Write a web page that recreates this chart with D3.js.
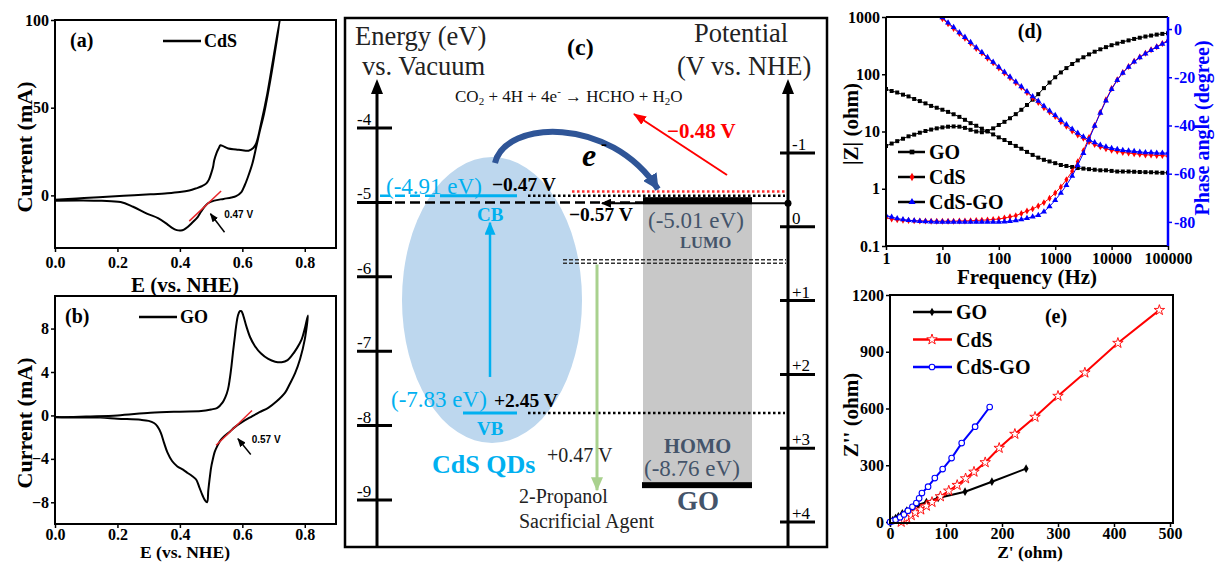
<!DOCTYPE html>
<html>
<head>
<meta charset="utf-8">
<script src="https://cdn.jsdelivr.net/npm/d3@7/dist/d3.min.js"></script>
<style>
  body { margin: 0; background: #fff; }
  svg { display: block; }
</style>
</head>
<body>
<div class="canvas"></div>
<script>
const serif = "'Liberation Serif', 'Times New Roman', serif";
const sans = "'Liberation Sans', Arial, sans-serif";

// (a) CdS cyclic voltammogram, forward then reverse scan
const cdsCvE = [0, 0.07, 0.14, 0.22, 0.306, 0.36, 0.4, 0.43, 0.452, 0.47, 0.484, 0.493, 0.5, 0.506, 0.51, 0.517, 0.524, 0.53, 0.537, 0.555, 0.58, 0.6, 0.62, 0.635, 0.645, 0.66, 0.68, 0.70, 0.72,
  0.71, 0.69, 0.67, 0.655, 0.645, 0.632, 0.618, 0.607, 0.597, 0.58, 0.565, 0.54, 0.51, 0.49, 0.478, 0.467, 0.457, 0.44, 0.425, 0.413, 0.403, 0.39, 0.375, 0.36, 0.33, 0.296, 0.25, 0.21, 0.15, 0.09, 0.0];
const cdsCvI = [-2.5, -1.8, -1, -0.2, 0.6, 1.2, 1.9, 2.8, 4, 5.2, 6.7, 9, 12.4, 16, 20, 24, 26.7, 28.6, 28.2, 26.7, 26.2, 25.7, 25.5, 27, 30, 41, 58, 79, 100,
  88, 66, 47, 36, 28, 18, 10.5, 5.5, 1.9, -0.4, -1.2, -2, -3, -4.5, -6.7, -9.5, -12.4, -15.5, -18, -19.5, -20, -19.8, -18.5, -16.5, -13, -10.5, -6.5, -3.8, -3.1, -2.9, -3];
const cdsTangent = [[0.43, -14.7], [0.532, 2.5]];
const cdsOnsetArrow = [[0.543, -21], [0.498, -10.5]];

// (b) GO cyclic voltammogram
const goCvE = [0, 0.1, 0.2, 0.306, 0.4, 0.468, 0.5, 0.52, 0.537, 0.546, 0.554, 0.56, 0.565, 0.57, 0.575, 0.58, 0.586, 0.592, 0.597, 0.603, 0.613, 0.625, 0.64, 0.66, 0.683, 0.705, 0.726, 0.745, 0.758, 0.775, 0.79, 0.80, 0.81,
  0.80, 0.785, 0.769, 0.752, 0.737, 0.71, 0.683, 0.655, 0.63, 0.6, 0.575, 0.56, 0.543, 0.53, 0.52, 0.511, 0.505, 0.5, 0.495, 0.491, 0.487, 0.48, 0.473, 0.462, 0.452, 0.44, 0.425, 0.41, 0.392, 0.375, 0.36, 0.349, 0.339, 0.328, 0.317, 0.3, 0.274, 0.2, 0.145, 0.07, 0];
const goCvI = [-0.2, -0.1, 0, 0.25, 0.35, 0.4, 0.55, 0.7, 1.2, 1.7, 2.4, 3.4, 4.5, 5.8, 7.0, 8.2, 9.2, 9.6, 9.6, 9.2, 8.2, 7.2, 6.4, 5.7, 5.2, 4.95, 4.9, 5.1, 5.5, 6.2, 7.0, 8.0, 9.2,
  7.0, 5.2, 3.9, 2.9, 2.1, 1.3, 0.7, 0.3, -0.1, -0.6, -1.1, -1.5, -1.9, -2.3, -2.8, -3.4, -4.1, -4.8, -5.9, -6.9, -8.0, -7.8, -7.4, -6.6, -5.9, -5.6, -5.3, -5.0, -4.7, -4.2, -3.4, -2.5, -1.6, -1.0, -0.7, -0.5, -0.4, -0.3, -0.2, -0.2, -0.15];
const goTangent = [[0.516, -2.74], [0.631, 0.46]];
const goOnsetArrow = [[0.627, -3.6], [0.586, -2.15]];

const eTicks = [0, 0.2, 0.4, 0.6, 0.8];
const aCurrentTicks = [0, 50, 100];
const bCurrentTicks = [-8, -4, 0, 4, 8];

// (c) band levels
const leftEnergyTicks = [-4, -5, -6, -7, -8, -9];
const rightPotentialTicks = [-1, 0, 1, 2, 3, 4];
const rightPotentialLabels = ["-1", "0", "+1", "+2", "+3", "+4"];
const cdsCB = -4.91;
const cdsVB = -7.83;
const goLUMO = -5.01;
const goHOMO = -8.76;
const vacRef = -5;
const co2Potential = -0.48;
const propanolPotential = 0.47;

// (d) Bode plot
const freq = [1, 1.26, 1.58, 2, 2.51, 3.16, 3.98, 5.01, 6.31, 7.94,
  10, 12.6, 15.8, 20, 25.1, 31.6, 39.8, 50.1, 63.1, 79.4,
  100, 126, 158, 200, 251, 316, 398, 501, 631, 794,
  1000, 1260, 1580, 2000, 2510, 3160, 3980, 5010, 6310, 7940,
  10000, 12600, 15800, 20000, 25100, 31600, 39800, 50100, 63100, 79400, 100000];
const goZ = [55, 51, 48, 44, 41, 37, 34, 31, 28, 26,
  24, 22, 20, 18, 16, 14, 12.6, 11.2, 10, 8.9,
  7.9, 7.1, 6.3, 5.6, 5.0, 4.4, 3.9, 3.5, 3.2, 3.0,
  2.8, 2.6, 2.5, 2.4, 2.3, 2.25, 2.2, 2.15, 2.1, 2.1,
  2.05, 2.0, 2.0, 2.0, 1.98, 1.96, 1.95, 1.94, 1.92, 1.9, 1.9];
const cdsZ = [6760, 5500, 4570, 3720, 3090, 2510, 2040, 1700, 1380, 1150,
  933, 759, 631, 513, 427, 347, 282, 234, 191, 158,
  129, 105, 87, 71, 59, 48, 39, 32, 26, 22,
  18.2, 14.8, 12.3, 10.2, 8.7, 7.6, 6.6, 5.9, 5.4, 5.0,
  4.7, 4.5, 4.3, 4.2, 4.1, 4.0, 3.9, 3.9, 3.8, 3.8, 3.7];
const cdsGoZ = [7100, 5800, 4800, 3900, 3250, 2640, 2150, 1780, 1450, 1200,
  980, 795, 660, 535, 445, 362, 294, 243, 198, 164,
  134, 109, 90, 74, 61, 50, 41, 34, 28, 23,
  19.2, 15.8, 13.2, 11.1, 9.4, 8.1, 7.1, 6.4, 5.8, 5.4,
  5.1, 4.9, 4.7, 4.6, 4.5, 4.4, 4.3, 4.3, 4.2, 4.2, 4.2];
const goPhase = [-48.5, -47.5, -46.5, -45.5, -44.5, -43.8, -43.0, -42.3, -41.7, -41.2,
  -40.8, -40.5, -40.4, -40.5, -41.0, -41.8, -42.5, -42.8, -42.3, -41.2,
  -39.8, -38.5, -37, -35.3, -33.5, -31.5, -29.3, -27, -24.5, -22.2,
  -20, -18, -16.2, -14.5, -13, -11.7, -10.5, -9.4, -8.4, -7.5,
  -6.7, -6.0, -5.3, -4.7, -4.1, -3.6, -3.1, -2.7, -2.3, -2.0, -1.7];
const cdsPhase = [-78.3, -78.8, -79.1, -79.3, -79.4, -79.5, -79.6, -79.6, -79.7, -79.7,
  -79.7, -79.7, -79.7, -79.6, -79.6, -79.5, -79.4, -79.3, -79.2, -79.0,
  -78.8, -78.4, -77.9, -77.4, -76.5, -75.5, -74.6, -73.4, -72, -70.2,
  -68, -65.5, -62.5, -59, -55, -50.5, -45, -40, -34.5, -29.3,
  -24.7, -21, -18, -15.5, -13.4, -11.6, -10, -8.6, -7.3, -6, -4.7];
const cdsGoPhase = [-77.3, -78, -78.6, -79, -79.3, -79.5, -79.7, -79.8, -79.9, -80,
  -80, -80, -80, -80, -80, -80, -80, -80, -80, -80,
  -80, -79.9, -79.7, -79.4, -79, -78.5, -77.9, -77.2, -75.8, -73.6,
  -71, -68, -64.8, -61, -56.5, -51.5, -45.8, -40.2, -34.8, -29.7,
  -25, -21.2, -18.2, -15.7, -13.6, -11.8, -10.2, -8.8, -7.5, -6.2, -5.0];
const freqTicks = [1, 10, 100, 1000, 10000, 100000];
const zTicks = [0.1, 1, 10, 100, 1000];
const phaseTicks = [0, -20, -40, -60, -80];

// (e) Nyquist plot
const goReZ = [0, 5, 10, 15, 22, 30, 40, 50, 65, 86, 134, 182, 243];
const goImZ = [0, 10, 20, 30, 45, 60, 75, 90, 105, 127, 160, 213, 282];
const cdsReZ = [20, 25, 30, 38, 45, 55, 65, 75, 90, 105, 120, 135, 150, 170, 195, 223, 259, 300, 348, 407, 481];
const cdsImZ = [0, 10, 22, 35, 50, 65, 85, 105, 135, 165, 195, 230, 265, 315, 391, 465, 555, 666, 789, 946, 1120];
const cdsGoReZ = [0, 5, 10, 18, 25, 32, 40, 47, 52, 57, 68, 80, 94, 110, 128, 152, 178];
const cdsGoImZ = [0, 5, 12, 25, 40, 60, 80, 100, 125, 153, 187, 232, 280, 338, 417, 504, 608];
const reTicks = [0, 100, 200, 300, 400, 500];
const imTicks = [0, 300, 600, 900, 1200];

const zip = (a, b) => a.map((v, i) => [v, b[i]]);

const svg = d3.select(".canvas").append("svg").attr("width", 1215).attr("height", 562);
svg.append("rect").attr("width", 1215).attr("height", 562).attr("fill", "#fff");

const defs = svg.append("defs");
function arrowMarker(id, color, w, h) {
  defs.append("marker")
    .attr("id", id)
    .attr("markerUnits", "userSpaceOnUse")
    .attr("viewBox", `0 0 ${w} ${h}`)
    .attr("refX", w - 1).attr("refY", h / 2)
    .attr("markerWidth", w).attr("markerHeight", h)
    .attr("orient", "auto")
    .append("path")
    .attr("d", `M0,0L${w},${h / 2}L0,${h}Z`)
    .attr("fill", color);
}
arrowMarker("ah-black", "#000", 9, 7);
arrowMarker("ah-red", "#ff0000", 13, 10);
arrowMarker("ah-cyan", "#00b0f0", 13, 11);
arrowMarker("ah-navy", "#2f5597", 16, 16);
arrowMarker("ah-green", "#a9d18e", 14, 12);
arrowMarker("ah-lumo", "#000", 10, 9);

function styleAxis(g, size, color) {
  g.select(".domain").remove();
  g.selectAll(".tick line").attr("stroke", color || "#000").attr("stroke-width", 1.5);
  g.selectAll(".tick text")
    .attr("font-family", serif)
    .attr("font-weight", "bold")
    .attr("font-size", size)
    .attr("fill", color || "#000");
}

function label(g, x, y, s, o) {
  o = o || {};
  const t = g.append("text")
    .attr("x", x).attr("y", y)
    .attr("font-family", o.family || serif)
    .attr("font-size", o.size || 16)
    .attr("font-weight", o.bold ? "bold" : "normal")
    .attr("font-style", o.italic ? "italic" : "normal")
    .attr("fill", o.color || "#000")
    .attr("text-anchor", o.anchor || "start")
    .text(s);
  if (o.rotate) t.attr("transform", `rotate(${o.rotate},${x},${y})`);
  return t;
}

// ---------- CV panels (a) and (b) ----------
function cvPanel(opt) {
  const x = d3.scaleLinear().domain([0, 0.9]).range([55, 336]);
  const y = d3.scaleLinear().domain(opt.yDomain).range([opt.bottom, opt.top]);
  const g = svg.append("g");

  g.append("g")
    .attr("transform", `translate(0,${opt.bottom})`)
    .call(d3.axisBottom(x).tickValues(eTicks).tickFormat(d3.format(".1f")).tickSize(4).tickPadding(opt.tickPad))
    .call(styleAxis, 16);
  g.append("g")
    .attr("transform", "translate(55,0)")
    .call(d3.axisLeft(y).tickValues(opt.yTicks).tickSize(4).tickPadding(2))
    .call(styleAxis, 16);

  g.append("path")
    .datum(zip(opt.e, opt.i))
    .attr("fill", "none")
    .attr("stroke", "#000")
    .attr("stroke-width", 2)
    .attr("stroke-linejoin", "round")
    .attr("d", d3.line().x(d => x(d[0])).y(d => y(d[1])).curve(d3.curveCatmullRom));

  g.append("line")
    .attr("x1", x(opt.tangent[0][0])).attr("y1", y(opt.tangent[0][1]))
    .attr("x2", x(opt.tangent[1][0])).attr("y2", y(opt.tangent[1][1]))
    .attr("stroke", "#e8262a").attr("stroke-width", 1.5);

  g.append("line")
    .attr("x1", x(opt.arrow[0][0])).attr("y1", y(opt.arrow[0][1]))
    .attr("x2", x(opt.arrow[1][0])).attr("y2", y(opt.arrow[1][1]))
    .attr("stroke", "#000").attr("stroke-width", 1.5)
    .attr("marker-end", "url(#ah-black)");

  label(g, x(opt.onsetPos[0]), y(opt.onsetPos[1]), opt.onsetText, { family: sans, size: 10, bold: true });

  g.append("rect")
    .attr("x", 55).attr("y", opt.top)
    .attr("width", 336 - 55).attr("height", opt.bottom - opt.top)
    .attr("fill", "none").attr("stroke", "#000").attr("stroke-width", 2);

  // legend
  g.append("line").attr("x1", opt.legX).attr("x2", opt.legX + 38)
    .attr("y1", opt.legY).attr("y2", opt.legY)
    .attr("stroke", "#000").attr("stroke-width", 2.5);
  label(g, opt.legX + 41, opt.legY + 6, opt.name, { size: 18, bold: true });
  label(g, opt.tagX, opt.tagY, opt.tag, { size: 20, bold: true });

  label(g, 32, (opt.top + opt.bottom) / 2 + 13, "Current (mA)", { size: 22, bold: true, anchor: "middle", rotate: -90 });
  label(g, 185, opt.xLabelY, "E (vs. NHE)", { size: opt.xLabelSize, bold: true, anchor: "middle" });
}

cvPanel({
  top: 20, bottom: 248, yDomain: [-30, 100], yTicks: aCurrentTicks,
  e: cdsCvE, i: cdsCvI, tangent: cdsTangent, arrow: cdsOnsetArrow,
  onsetPos: [0.542, -13], onsetText: "0.47 V", tickPad: 5,
  legX: 163, legY: 41, name: "CdS", tag: "(a)", tagX: 70, tagY: 47, xLabelY: 292, xLabelSize: 21
});
cvPanel({
  top: 296, bottom: 524, yDomain: [-10, 11], yTicks: bCurrentTicks,
  e: goCvE, i: goCvI, tangent: goTangent, arrow: goOnsetArrow,
  onsetPos: [0.63, -2.5], onsetText: "0.57 V", tickPad: 1,
  legX: 139, legY: 317, name: "GO", tag: "(b)", tagX: 65, tagY: 323, xLabelY: 558, xLabelSize: 17.5
});

// ---------- (c) band diagram ----------
const gc = svg.append("g");
const yE = d3.scaleLinear().domain([-4, -9]).range([128, 500]);
const yV = d3.scaleLinear().domain([-1, 4]).range([153, 522]);
const leftAxisX = 377, rightAxisX = 788;
const yCB = yE(cdsCB), yVB = yE(cdsVB), yL = yE(goLUMO), yH = yE(goHOMO);
const goLeft = 643, goRight = 752;

gc.append("ellipse")
  .attr("cx", 492).attr("cy", 300).attr("rx", 90).attr("ry", 143)
  .attr("fill", "#bdd7ee");
gc.append("rect")
  .attr("x", goLeft).attr("y", yL).attr("width", goRight - goLeft).attr("height", yH - yL)
  .attr("fill", "#c8c8c8");

// axes with arrow tips
[leftAxisX, rightAxisX].forEach(ax => {
  gc.append("line").attr("x1", ax).attr("x2", ax).attr("y1", 547).attr("y2", 92)
    .attr("stroke", "#000").attr("stroke-width", 3);
  gc.append("path").attr("d", `M${ax - 6},94L${ax},79L${ax + 6},94Z`).attr("fill", "#000");
});
leftEnergyTicks.forEach(v => {
  gc.append("line").attr("x1", 357).attr("x2", 392).attr("y1", yE(v)).attr("y2", yE(v))
    .attr("stroke", "#000").attr("stroke-width", 3);
  label(gc, 357, yE(v) - 3, String(v), { size: 17 });
});
rightPotentialTicks.forEach((v, i) => {
  gc.append("line").attr("x1", 780).attr("x2", 815).attr("y1", yV(v)).attr("y2", yV(v))
    .attr("stroke", "#000").attr("stroke-width", 3);
  label(gc, 792, yV(v) - 3, rightPotentialLabels[i], { size: 17 });
});

// level lines
gc.append("line").attr("x1", 380).attr("x2", goLeft).attr("y1", yE(vacRef)).attr("y2", yE(vacRef))
  .attr("stroke", "#000").attr("stroke-width", 2.5).attr("stroke-dasharray", "10,5");
gc.append("line").attr("x1", 380).attr("x2", 440).attr("y1", yCB).attr("y2", yCB)
  .attr("stroke", "#00b0f0").attr("stroke-width", 2.5).attr("stroke-dasharray", "10,5");
gc.append("line").attr("x1", 440).attr("x2", 517).attr("y1", yCB).attr("y2", yCB)
  .attr("stroke", "#00b0f0").attr("stroke-width", 3);
gc.append("line").attr("x1", 463).attr("x2", 517).attr("y1", yVB).attr("y2", yVB)
  .attr("stroke", "#00b0f0").attr("stroke-width", 3);
gc.append("line").attr("x1", 528).attr("x2", 785).attr("y1", yCB).attr("y2", yCB)
  .attr("stroke", "#000").attr("stroke-width", 2.5).attr("stroke-dasharray", "2.5,2.5");
gc.append("line").attr("x1", 572).attr("x2", 785).attr("y1", yV(co2Potential)).attr("y2", yV(co2Potential))
  .attr("stroke", "#ff3030").attr("stroke-width", 2.5).attr("stroke-dasharray", "2.5,2.5");
gc.append("line").attr("x1", 528).attr("x2", 785).attr("y1", yVB).attr("y2", yVB)
  .attr("stroke", "#000").attr("stroke-width", 2.5).attr("stroke-dasharray", "2.5,2.5");
[-1.8, 1.8].forEach(off => {
  gc.append("line").attr("x1", 563).attr("x2", 786)
    .attr("y1", yV(propanolPotential) + off).attr("y2", yV(propanolPotential) + off)
    .attr("stroke", "#333").attr("stroke-width", 1.4).attr("stroke-dasharray", "4,2");
});

// LUMO / HOMO bars
gc.append("rect").attr("x", goLeft).attr("y", yL - 6).attr("width", goRight - goLeft).attr("height", 7).attr("fill", "#000");
gc.append("rect").attr("x", goLeft - 1).attr("y", yH).attr("width", goRight - goLeft + 1).attr("height", 6).attr("fill", "#000");
gc.append("line").attr("x1", rightAxisX).attr("x2", 602).attr("y1", yL).attr("y2", yL)
  .attr("stroke", "#000").attr("stroke-width", 2).attr("marker-end", "url(#ah-lumo)");
gc.append("circle").attr("cx", rightAxisX).attr("cy", yL).attr("r", 3.5).attr("fill", "#000");

// arrows
gc.append("line").attr("x1", 490).attr("x2", 490).attr("y1", yVB - 36).attr("y2", yCB + 27)
  .attr("stroke", "#00b0f0").attr("stroke-width", 2.5).attr("marker-end", "url(#ah-cyan)");
gc.append("line").attr("x1", 597).attr("x2", 597).attr("y1", yV(propanolPotential) + 3).attr("y2", yH + 8)
  .attr("stroke", "#a9d18e").attr("stroke-width", 3).attr("marker-end", "url(#ah-green)");
gc.append("line").attr("x1", 727).attr("y1", 175).attr("x2", 634).attr("y2", 114)
  .attr("stroke", "#ff0000").attr("stroke-width", 2).attr("marker-end", "url(#ah-red)");
gc.append("path")
  .attr("d", `M495,163C505,120 610,115 658,${yL - 14}`)
  .attr("fill", "none").attr("stroke", "#2f5597").attr("stroke-width", 6)
  .attr("marker-end", "url(#ah-navy)");

// texts
label(gc, 355, 45, "Energy (eV)", { size: 26.5, color: "#222" });
label(gc, 362, 75, "vs. Vacuum", { size: 26.5, color: "#222" });
label(gc, 567, 55, "(c)", { size: 24, bold: true });
label(gc, 694, 42, "Potential", { size: 26.5, color: "#222" });
label(gc, 677, 75, "(V vs. NHE)", { size: 26.5, color: "#222" });

const eq = gc.append("text").attr("x", 455).attr("y", 102)
  .attr("font-family", serif).attr("font-size", 17).attr("fill", "#111");
eq.append("tspan").text("CO");
eq.append("tspan").attr("font-size", 11).attr("dy", 3).text("2");
eq.append("tspan").attr("dy", -3).text(" + 4H + 4e");
eq.append("tspan").attr("font-size", 11).attr("dy", -7).text("-");
eq.append("tspan").attr("dy", 7).text(" \u2192 HCHO + H");
eq.append("tspan").attr("font-size", 11).attr("dy", 3).text("2");
eq.append("tspan").attr("dy", -3).text("O");

label(gc, 667, 138, "\u22120.48 V", { size: 21, bold: true, color: "#ff0000" });
label(gc, 582, 166, "e", { size: 32, bold: true, italic: true });
label(gc, 601, 150, "-", { size: 18, bold: true });

label(gc, 386, yCB - 2, "(-4.91 eV)", { size: 23, color: "#00b0f0" });
label(gc, 492, yCB - 5, "\u22120.47 V", { size: 19.5, bold: true });
label(gc, 477, yCB + 25, "CB", { size: 19, bold: true, color: "#00b0f0" });
label(gc, 569, yL + 18, "\u22120.57 V", { size: 19.5, bold: true });
label(gc, 648, yL + 25, "(-5.01 eV)", { size: 23, color: "#44546a" });
label(gc, 680, yL + 45, "LUMO", { size: 16.5, bold: true, color: "#44546a" });

label(gc, 391, yVB - 6, "(-7.83 eV)", { size: 23, color: "#00b0f0" });
label(gc, 494, yVB - 6, "+2.45 V", { size: 19.5, bold: true });
label(gc, 477, yVB + 22, "VB", { size: 19, bold: true, color: "#00b0f0" });
label(gc, 432, 473, "CdS QDs", { size: 26, bold: true, color: "#00b0f0" });
label(gc, 547, 462, "+0.47 V", { size: 20, color: "#222" });
label(gc, 519, 503, "2-Propanol", { size: 20, color: "#222" });
label(gc, 519, 528, "Sacrificial Agent", { size: 20, color: "#222" });

label(gc, 664, yH - 29, "HOMO", { size: 20.5, bold: true, color: "#44546a" });
label(gc, 644, yH - 6, "(-8.76 eV)", { size: 23, color: "#44546a" });
label(gc, 677, yH + 28, "GO", { size: 27, bold: true, color: "#44546a" });

gc.append("rect").attr("x", 345).attr("y", 18).attr("width", 482).attr("height", 529)
  .attr("fill", "none").attr("stroke", "#000").attr("stroke-width", 2.5);

// ---------- (d) Bode plot ----------
const gd = svg.append("g");
const xF = d3.scaleLog().domain([1, 100000]).range([886, 1168]);
const yZ = d3.scaleLog().domain([0.1, 1000]).range([246, 17]);
const yP = d3.scaleLinear().domain([-90, 5]).range([246, 17]);

defs.append("clipPath").attr("id", "clip-d")
  .append("rect").attr("x", 886).attr("y", 17).attr("width", 282).attr("height", 229);

gd.append("g").attr("transform", "translate(0,246)")
  .call(d3.axisBottom(xF).tickValues(freqTicks).tickFormat(String).tickSize(4).tickPadding(3))
  .call(styleAxis, 16);
gd.append("g").attr("transform", "translate(886,0)")
  .call(d3.axisLeft(yZ).tickValues(zTicks).tickFormat(String).tickSize(4).tickPadding(2))
  .call(styleAxis, 16);
gd.append("g").attr("transform", "translate(1168,0)")
  .call(d3.axisRight(yP).tickValues(phaseTicks).tickFormat(String).tickSize(4).tickPadding(2))
  .call(styleAxis, 16, "#0000ff");

const bodeSeries = [
  { z: goZ, p: goPhase, color: "#000", sym: d3.symbolSquare, size: 16, name: "GO" },
  { z: cdsZ, p: cdsPhase, color: "#ff0000", sym: d3.symbolDiamond, size: 14, name: "CdS" },
  { z: cdsGoZ, p: cdsGoPhase, color: "#0000ff", sym: d3.symbolTriangle, size: 16, name: "CdS-GO" }
];
const plotD = gd.append("g").attr("clip-path", "url(#clip-d)");
bodeSeries.forEach(s => {
  [zip(freq, s.z).map(d => [xF(d[0]), yZ(d[1])]), zip(freq, s.p).map(d => [xF(d[0]), yP(d[1])])].forEach(pts => {
    plotD.append("path").datum(pts)
      .attr("fill", "none").attr("stroke", s.color).attr("stroke-width", 1)
      .attr("d", d3.line());
    plotD.selectAll(null).data(pts).enter().append("path")
      .attr("transform", d => `translate(${d[0]},${d[1]})`)
      .attr("d", d3.symbol(s.sym, s.size)())
      .attr("fill", s.color);
  });
});
gd.append("line").attr("x1", 886).attr("x2", 1168).attr("y1", 17).attr("y2", 17).attr("stroke", "#000").attr("stroke-width", 2);
gd.append("line").attr("x1", 886).attr("x2", 1168).attr("y1", 246).attr("y2", 246).attr("stroke", "#000").attr("stroke-width", 2);
gd.append("line").attr("x1", 886).attr("x2", 886).attr("y1", 17).attr("y2", 246).attr("stroke", "#000").attr("stroke-width", 2);
gd.append("line").attr("x1", 1168).attr("x2", 1168).attr("y1", 17).attr("y2", 246).attr("stroke", "#0000ff").attr("stroke-width", 2.5);

bodeSeries.forEach((s, i) => {
  const ly = 152 + i * 25;
  gd.append("line").attr("x1", 898).attr("x2", 925).attr("y1", ly).attr("y2", ly)
    .attr("stroke", "#000").attr("stroke-width", 2.5);
  gd.append("path").attr("transform", `translate(912,${ly})`)
    .attr("d", d3.symbol(s.sym, s.size + 6)()).attr("fill", s.color);
  label(gd, 929, ly + 7, s.name, { size: 20, bold: true });
});
label(gd, 1030, 38, "(d)", { size: 20, bold: true, anchor: "middle" });
label(gd, 858, 124, "|Z| (ohm)", { size: 21, bold: true, anchor: "middle", rotate: -90 });
label(gd, 1209, 128, "Phase angle (degree)", { size: 20, bold: true, anchor: "middle", rotate: -90, color: "#0000ff" });
label(gd, 1027, 284, "Frequency (Hz)", { size: 21, bold: true, anchor: "middle" });

// ---------- (e) Nyquist plot ----------
const ge = svg.append("g");
const xR = d3.scaleLinear().domain([0, 500]).range([890, 1170]);
const yI = d3.scaleLinear().domain([0, 1200]).range([522, 295]);

ge.append("g").attr("transform", "translate(0,523)")
  .call(d3.axisBottom(xR).tickValues(reTicks).tickFormat(d3.format("d")).tickSize(4).tickPadding(1))
  .call(styleAxis, 16);
ge.append("g").attr("transform", "translate(890,0)")
  .call(d3.axisLeft(yI).tickValues(imTicks).tickFormat(d3.format("d")).tickSize(4).tickPadding(2))
  .call(styleAxis, 16);

const nyqSeries = [
  { x: goReZ, y: goImZ, color: "#000", name: "GO", mark: "diamond" },
  { x: cdsReZ, y: cdsImZ, color: "#ff0000", name: "CdS", mark: "star" },
  { x: cdsGoReZ, y: cdsGoImZ, color: "#0000ff", name: "CdS-GO", mark: "circle" }
];
function nyqMarker(g, s, cx, cy) {
  if (s.mark === "diamond") {
    g.append("path").attr("transform", `translate(${cx},${cy})`)
      .attr("d", d3.symbol(d3.symbolDiamond, 22)()).attr("fill", s.color);
  } else if (s.mark === "star") {
    g.append("path").attr("transform", `translate(${cx},${cy})`)
      .attr("d", d3.symbol(d3.symbolStar, 34)()).attr("fill", "#fff")
      .attr("stroke", s.color).attr("stroke-width", 0.9);
  } else {
    g.append("circle").attr("cx", cx).attr("cy", cy).attr("r", 2.8)
      .attr("fill", "#fff").attr("stroke", s.color).attr("stroke-width", 1.1);
  }
}
nyqSeries.forEach(s => {
  const pts = zip(s.x, s.y);
  ge.append("path").datum(pts)
    .attr("fill", "none").attr("stroke", s.color).attr("stroke-width", 2)
    .attr("d", d3.line().x(d => xR(d[0])).y(d => yI(d[1])));
  pts.forEach(d => nyqMarker(ge, s, xR(d[0]), yI(d[1])));
});
nyqSeries.forEach((s, i) => {
  const ly = 312 + i * 27.5;
  ge.append("line").attr("x1", 913).attr("x2", 952).attr("y1", ly).attr("y2", ly)
    .attr("stroke", s.color).attr("stroke-width", 2.5);
  nyqMarker(ge, s, 932, ly);
  label(ge, 956, ly + 7, s.name, { size: 20, bold: true });
});
ge.append("rect").attr("x", 890).attr("y", 295).attr("width", 283).attr("height", 228)
  .attr("fill", "none").attr("stroke", "#000").attr("stroke-width", 2);
label(ge, 1056, 323, "(e)", { size: 20, bold: true, anchor: "middle" });
label(ge, 858, 415, "Z'' (ohm)", { size: 21, bold: true, anchor: "middle", rotate: -90 });
label(ge, 1030, 558, "Z' (ohm)", { size: 17.5, bold: true, anchor: "middle" });
</script>
</body>
</html>
